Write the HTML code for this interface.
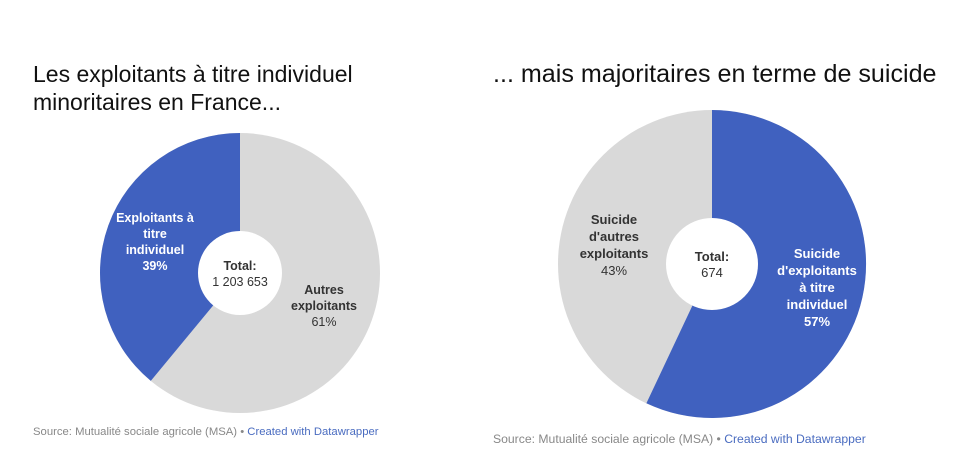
<!DOCTYPE html>
<html><head><meta charset="utf-8"><style>
body{margin:0;background:#fff;width:968px;height:455px;overflow:hidden;font-family:"Liberation Sans",Arial,sans-serif;}
.t{position:absolute;color:#111;white-space:nowrap;}
.s{position:absolute;color:#888;white-space:nowrap;}
.s span{color:#4a6cc0;}
</style></head><body>
<div class="t" style="left:33px;top:60px;font-size:23px;line-height:28px;">Les exploitants à titre individuel<br>minoritaires en France...</div>
<div class="t" style="left:493px;top:59px;font-size:25.1px;line-height:30px;">... mais majoritaires en terme de suicide</div>
<svg width="968" height="455" style="position:absolute;left:0;top:0" font-family="Liberation Sans, Arial, sans-serif" font-size="12.5">
<circle cx="240" cy="273" r="140" fill="#d9d9d9"/>
<path d="M240 273 L240 133 A140 140 0 0 0 150.8 380.9 Z" fill="#4061bf"/>
<circle cx="240" cy="273" r="42" fill="#fff"/>
<g text-anchor="middle" font-weight="bold" fill="#fff">
<text x="155" y="222">Exploitants à</text><text x="155" y="238">titre</text><text x="155" y="254">individuel</text><text x="155" y="270">39%</text></g>
<text x="240" y="270" text-anchor="middle" font-weight="bold" fill="#333">Total:</text>
<text x="240" y="286" text-anchor="middle" fill="#333">1 203 653</text>
<g text-anchor="middle" fill="#333"><text x="324" y="294" font-weight="bold">Autres</text><text x="324" y="310" font-weight="bold">exploitants</text><text x="324" y="326">61%</text></g>
<circle cx="712" cy="264" r="154" fill="#d9d9d9"/>
<path d="M712 264 L712 110 A154 154 0 1 1 646.4 403.3 Z" fill="#4061bf"/>
<circle cx="712" cy="264" r="46" fill="#fff"/>
<g text-anchor="middle" fill="#333" font-size="13"><text x="614" y="224" font-weight="bold">Suicide</text><text x="614" y="241" font-weight="bold">d'autres</text><text x="614" y="258" font-weight="bold">exploitants</text><text x="614" y="275">43%</text></g>
<text x="712" y="261" text-anchor="middle" font-weight="bold" fill="#333" font-size="13">Total:</text>
<text x="712" y="277" text-anchor="middle" fill="#333" font-size="13">674</text>
<g text-anchor="middle" font-weight="bold" fill="#fff" font-size="13"><text x="817" y="258">Suicide</text><text x="817" y="275">d'exploitants</text><text x="817" y="292">à titre</text><text x="817" y="309">individuel</text><text x="817" y="326">57%</text></g>
</svg>
<div class="s" style="left:33px;top:426px;font-size:11.3px;">Source: Mutualité sociale agricole (MSA) • <span>Created with Datawrapper</span></div>
<div class="s" style="left:493px;top:432px;font-size:12.2px;">Source: Mutualité sociale agricole (MSA) • <span>Created with Datawrapper</span></div>
</body></html>
